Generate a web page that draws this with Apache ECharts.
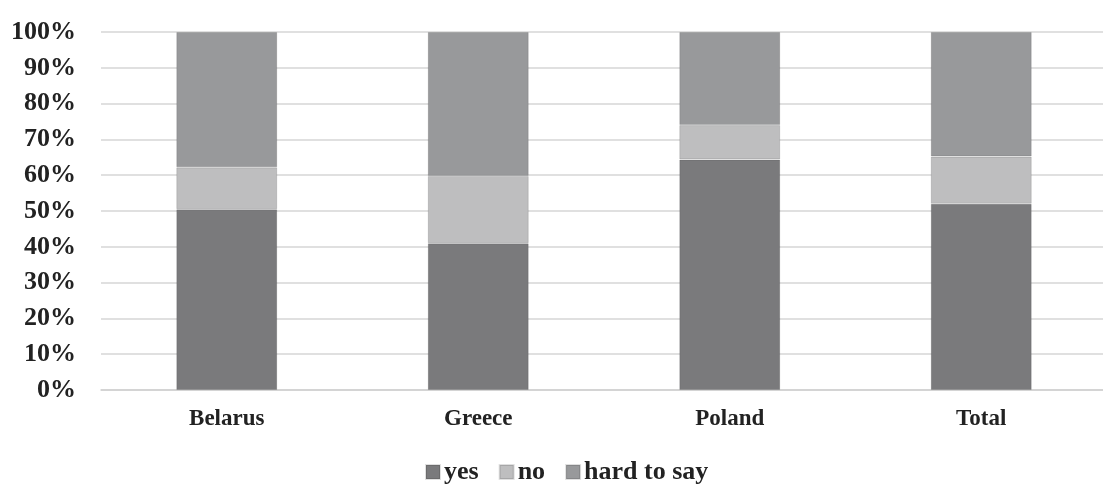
<!DOCTYPE html>
<html>
<head>
<meta charset="utf-8">
<script src="https://cdn.jsdelivr.net/npm/echarts@6/dist/echarts.min.js"></script>
<style>
  html, body { margin: 0; padding: 0; background: #fff; }
  #chart { width: 1103px; height: 500px; }
</style>
</head>
<body>
<div id="chart"></div>
<script>
const categories = ['Belarus', 'Greece', 'Poland', 'Total'];
const yesValues = [50.5, 41.0, 64.4, 52.0];
const noValues = [11.7, 18.8, 9.6, 13.2];
const hardValues = [37.8, 40.2, 26.0, 34.8];

const seriesNames = ['yes', 'no', 'hard to say'];
const seriesColors = ['#7a7a7c', '#bebebf', '#98999b'];
const seriesData = [yesValues, noValues, hardValues];

const chart = echarts.init(document.getElementById('chart'));
const font = '"Liberation Serif", "DejaVu Serif", serif';

const option = {
  backgroundColor: '#fff',
  animation: false,
  grid: { left: 101, top: 32, width: 1006, height: 358, containLabel: false, outerBoundsMode: 'none' },
  legend: {
    bottom: 10,
    left: 420,
    itemWidth: 14,
    itemHeight: 14,
    itemGap: 20,
    icon: 'rect',
    data: seriesNames,
    textStyle: { fontFamily: font, fontWeight: 'bold', fontSize: 26, color: '#222', padding: [0, 0, 0, -1] }
  },
  xAxis: {
    type: 'category',
    data: categories,
    axisTick: { show: false },
    axisLine: { lineStyle: { color: '#cfcfcf', width: 1.5 } },
    axisLabel: { fontFamily: font, fontWeight: 'bold', fontSize: 23, color: '#222', margin: 18 }
  },
  yAxis: {
    type: 'value',
    min: 0,
    max: 100,
    interval: 10,
    axisLine: { show: false },
    axisTick: { show: false },
    splitLine: { lineStyle: { color: '#d6d6d6', width: 1.5 } },
    axisLabel: { fontFamily: font, fontWeight: 'bold', fontSize: 26, color: '#222', margin: 25, formatter: '{value}%' }
  },
  series: seriesNames.map((name, i) => ({
    name: name,
    type: 'bar',
    stack: 'total',
    barWidth: 101,
    data: seriesData[i],
    itemStyle: { color: seriesColors[i], borderColor: 'rgba(0,0,0,0.12)', borderWidth: 1 }
  }))
};

chart.setOption(option);
</script>
</body>
</html>
